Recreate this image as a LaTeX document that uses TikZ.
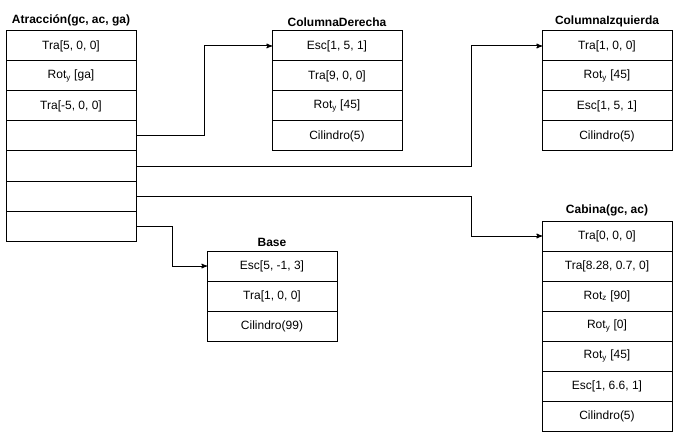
\documentclass[tikz,border=0pt]{standalone}
\usepackage{fontspec}
\setmainfont{Liberation Sans}
\usetikzlibrary{positioning}
\usetikzlibrary{arrows}

\begin{document}
\begin{tikzpicture}[x = 1pt, y = -1pt, line width = 1pt,
    fila/.style = {draw, minimum width = 130pt, minimum height = 30pt, inner sep = 0pt, outer sep = 0pt, font = \fontsize{12}{14}\selectfont},
    titulo/.style = {anchor = south, inner sep = 4pt, font = \fontsize{12}{14}\selectfont\bfseries},
    flecha/.style = {-stealth', line width = 1pt}]
    \useasboundingbox (0,0) rectangle (688,433);
    % Atraccion
    \node[fila, anchor = north west] (at1) at (6,31) {Tra[5, 0, 0]};
    \node[fila, below = 0pt of at1] (at2) {Rot\textsubscript{y} [ga]};
    \node[fila, below = 0pt of at2] (at3) {Tra[-5, 0, 0]};
    \node[fila, below = 0pt of at3] (at4) {};
    \node[fila, below = 0pt of at4] (at5) {};
    \node[fila, below = 0pt of at5] (at6) {};
    \node[fila, below = 0pt of at6] (at7) {};
    \node[titulo] (tat) at (at1.north) {Atracción(gc, ac, ga)};
    % ColumnaDerecha
    \node[fila, anchor = north west] (cd1) at (272,31) {Esc[1, 5, 1]};
    \node[fila, below = 0pt of cd1] (cd2) {Tra[9, 0, 0]};
    \node[fila, below = 0pt of cd2] (cd3) {Rot\textsubscript{y} [45]};
    \node[fila, below = 0pt of cd3] (cd4) {Cilindro(5)};
    \node[titulo] (tcd) at (cd1.north) {ColumnaDerecha};
    % ColumnaIzquierda
    \node[fila, anchor = north west] (ci1) at (542,31) {Tra[1, 0, 0]};
    \node[fila, below = 0pt of ci1] (ci2) {Rot\textsubscript{y} [45]};
    \node[fila, below = 0pt of ci2] (ci3) {Esc[1, 5, 1]};
    \node[fila, below = 0pt of ci3] (ci4) {Cilindro(5)};
    \node[titulo] (tci) at (ci1.north) {ColumnaIzquierda};
    % Cabina
    \node[fila, anchor = north west] (cb1) at (542,221) {Tra[0, 0, 0]};
    \node[fila, below = 0pt of cb1] (cb2) {Tra[8.28, 0.7, 0]};
    \node[fila, below = 0pt of cb2] (cb3) {Rot\textsubscript{z} [90]};
    \node[fila, below = 0pt of cb3] (cb4) {Rot\textsubscript{y} [0]};
    \node[fila, below = 0pt of cb4] (cb5) {Rot\textsubscript{y} [45]};
    \node[fila, below = 0pt of cb5] (cb6) {Esc[1, 6.6, 1]};
    \node[fila, below = 0pt of cb6] (cb7) {Cilindro(5)};
    \node[titulo] (tcb) at (cb1.north) {Cabina(gc, ac)};
    % Base
    \node[fila, anchor = north west] (ba1) at (207,251) {Esc[5, -1, 3]};
    \node[fila, below = 0pt of ba1] (ba2) {Tra[1, 0, 0]};
    \node[fila, below = 0pt of ba2] (ba3) {Cilindro(99)};
    \node[titulo] (tba) at (ba1.north) {Base};
    % conexiones
    \draw[flecha] (at4.east) -- ++(68,0) |- (cd1.west);
    \draw[flecha] (at5.east) -- ++(335,0) |- (ci1.west);
    \draw[flecha] (at6.east) -- ++(335,0) |- (cb1.west);
    \draw[flecha] (at7.east) -- ++(36,0) |- (ba1.west);
\end{tikzpicture}
\end{document}
